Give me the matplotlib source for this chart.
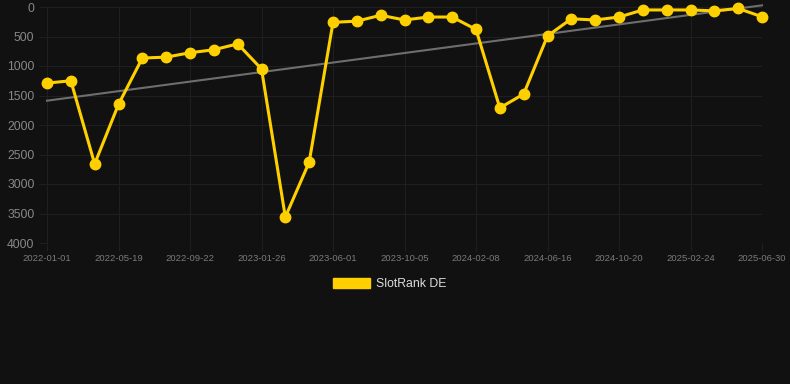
import numpy as np
import matplotlib
matplotlib.use("Agg")
import matplotlib.pyplot as plt
from matplotlib.patches import Patch

plt.rcParams["font.family"] = ["Liberation Sans", "DejaVu Sans"]

# rank per sample (lower is better), one sample per slot on the axis
ranks = [1290, 1250, 2660, 1650, 865, 850, 775, 725, 625, 1050,
         3560, 2630, 260, 240, 140, 220, 170, 170, 380, 1710,
         1475, 490, 200, 220, 170, 50, 50, 50, 65, 25, 165]
tick_labels = ["2022-01-01", "2022-05-19", "2022-09-22", "2023-01-26",
               "2023-06-01", "2023-10-05", "2024-02-08", "2024-06-16",
               "2024-10-20", "2025-02-24", "2025-06-30"]
y_ticks = [0, 500, 1000, 1500, 2000, 2500, 3000, 3500, 4000]

bg = "#111111"
grid = "#1f1f1f"
txt = "#888888"
gold = "#FFD000"

x = np.arange(len(ranks))
slope, icept = np.polyfit(x, ranks, 1)

fig = plt.figure(figsize=(7.9, 3.84), dpi=100, facecolor=bg)
ax = fig.add_axes([47 / 790, 1 - 243 / 384, 715 / 790, 236 / 384], facecolor=bg)

ax.plot(x, icept + slope * x, color="#6e6e6e", lw=1.5, zorder=2, clip_on=False)
ax.plot(x, ranks, color=gold, lw=2.2, marker="o", ms=7.5, zorder=3, clip_on=False)

ax.set_xlim(0, len(ranks) - 1)
ax.set_ylim(4000, 0)
ax.set_yticks(y_ticks)
ax.set_xticks(x[::3])
ax.set_xticklabels(tick_labels)
ax.grid(True, color=grid, lw=0.8)
ax.set_axisbelow(True)
for s in ax.spines.values():
    s.set_visible(False)
ax.tick_params(axis="y", colors=grid, labelcolor=txt, labelsize=8.8, length=6, pad=3)
ax.tick_params(axis="x", colors=grid, labelcolor="#7a7a7a", labelsize=6.8, length=6, pad=2)

fig.legend(handles=[Patch(color=gold, label="SlotRank DE")], loc="center",
           bbox_to_anchor=(390 / 790, 1 - 284 / 384), frameon=False,
           handlelength=3.0, handleheight=0.9, handletextpad=0.5,
           labelcolor="#dddddd", prop={"size": 8.8})

fig.savefig("out.png", facecolor=bg)
